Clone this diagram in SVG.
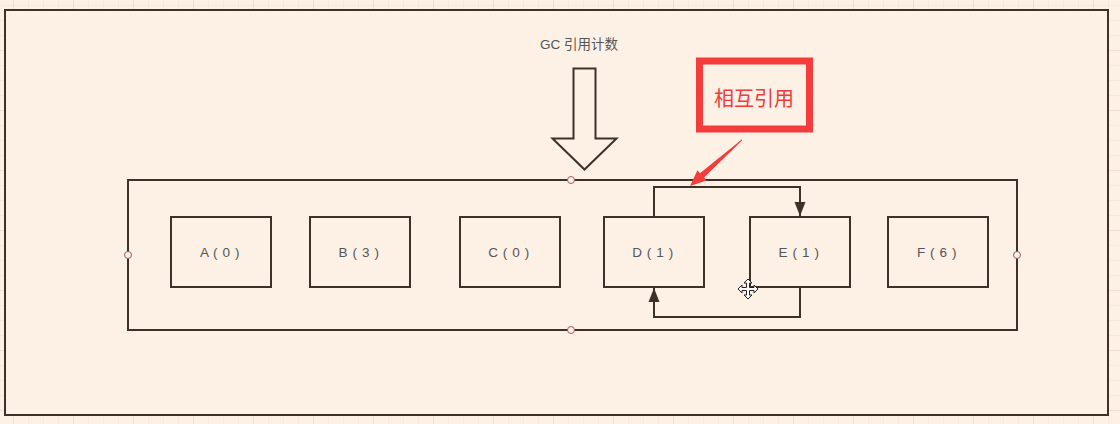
<svg xmlns="http://www.w3.org/2000/svg" width="1120" height="424" viewBox="0 0 1120 424">
  <defs>
    <pattern id="minor" x="13" y="5" width="15" height="15" patternUnits="userSpaceOnUse">
      <path d="M0 0V15M0 0H15" fill="none" stroke="#f2e2d6" stroke-width="1"/>
    </pattern>
    <pattern id="major" x="13" y="50" width="60" height="60" patternUnits="userSpaceOnUse">
      <path d="M0 0V60M0 0H60" fill="none" stroke="#ead8cb" stroke-width="1"/>
    </pattern>
    <marker id="arr" viewBox="0 0 14 12" refX="14" refY="6" markerWidth="14" markerHeight="12" markerUnits="userSpaceOnUse" orient="auto">
      <path d="M0 0.5L14 6L0 11.5Z" fill="#3e3128"/>
    </marker>
  </defs>
  <style>
    .box { fill: none; stroke: #3e3128; stroke-width: 2; }
    .lbl { font-family: "Liberation Sans", "Noto Sans CJK SC", sans-serif; font-size: 13.5px; fill: #555; text-anchor: middle; }
    .nl { letter-spacing: 0.6px; }
    .pt { fill: #fdf0e5; stroke: #9a5a5a; stroke-width: 1; }
    .conn { fill: none; stroke: #3e3128; stroke-width: 2; }
  </style>
  <rect width="1120" height="424" fill="#fdf0e5"/>
  <rect width="1120" height="424" fill="url(#minor)"/>
  <rect width="1120" height="424" fill="url(#major)"/>
  <rect x="5" y="10" width="1103" height="405" fill="#fdf0e5" stroke="#3e3128" stroke-width="2"/>

  <g id="title">
    <text class="lbl" x="579" y="49" font-size="12.5">GC 引用计数</text>
  </g>
  <g id="bigArrow">
    <path d="M573.5 68.5H595.5V138.5H616.5L584.5 169.5L552.5 138.5H573.5Z" fill="#fdf0e5" stroke="#3e3128" stroke-width="2"/>
  </g>

  <g id="container">
    <rect class="box" x="128" y="180" width="889" height="150"/>
    <circle class="pt" cx="571" cy="180" r="3.5"/>
    <circle class="pt" cx="571" cy="330" r="3.5"/>
    <circle class="pt" cx="128" cy="255" r="3.5"/>
    <circle class="pt" cx="1017" cy="255" r="3.5"/>
  </g>

  <g id="nodeA"><rect class="box" x="171" y="217" width="100" height="70"/><text class="lbl nl" x="220" y="257">A ( 0 )</text></g>
  <g id="nodeB"><rect class="box" x="310" y="217" width="100" height="70"/><text class="lbl nl" x="359" y="257">B ( 3 )</text></g>
  <g id="nodeC"><rect class="box" x="460" y="217" width="100" height="70"/><text class="lbl nl" x="509" y="257">C ( 0 )</text></g>
  <g id="nodeD"><rect class="box" x="604" y="217" width="100" height="70"/><text class="lbl nl" x="653" y="257">D ( 1 )</text></g>
  <g id="nodeE"><rect class="box" x="750" y="217" width="100" height="70"/><text class="lbl nl" x="799" y="257">E ( 1 )</text></g>
  <g id="nodeF"><rect class="box" x="888" y="217" width="100" height="70"/><text class="lbl nl" x="937" y="257">F ( 6 )</text></g>

  <g id="connectors">
    <path class="conn" d="M654 217V187H800V216" marker-end="url(#arr)"/>
    <path class="conn" d="M800 287V317H654V288" marker-end="url(#arr)"/>
  </g>

  <g id="callout">
    <rect x="699.5" y="61" width="110" height="68" fill="none" stroke="#f53c3c" stroke-width="7"/>
    <text x="754" y="105.5" font-family="'Noto Sans CJK SC', sans-serif" font-size="20" fill="#ee3b3b" text-anchor="middle">相互引用</text>
    <polygon points="690,186 706.6,180.6 704,177.6 742.3,140.3 741.7,139.6 700,173.2 697.4,170.2" fill="#f53c3c"/>
  </g>

  <g id="cursor" transform="translate(748,289)">
    <path d="M0 -10L-4 -6H-1.5V-1.5H-6V-4L-10 0L-6 4V1.5H-1.5V6H-4L0 10L4 6H1.5V1.5H6V4L10 0L6 -4V-1.5H1.5V-6H4Z" fill="#fff" stroke="#222" stroke-width="1"/>
  </g>
</svg>
